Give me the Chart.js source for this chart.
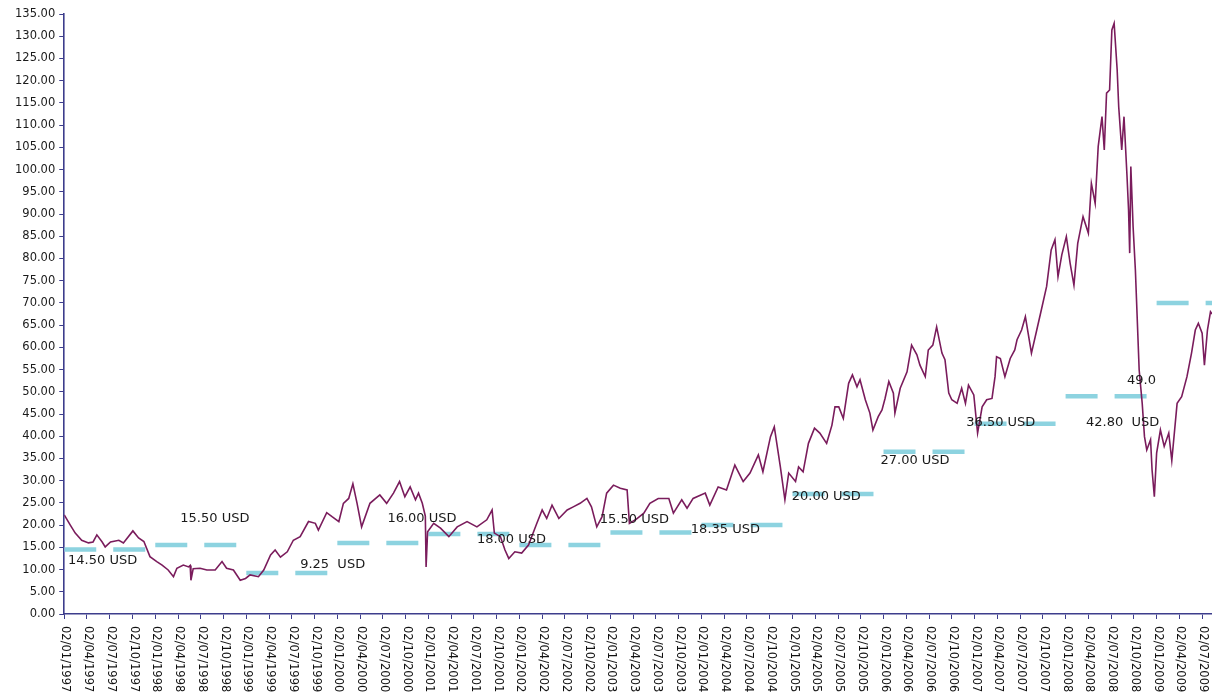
<!DOCTYPE html>
<html>
<head>
<meta charset="utf-8">
<script src="https://cdn.jsdelivr.net/npm/chart.js@4.4.0/dist/chart.umd.min.js"></script>
<style>
  html, body { margin: 0; padding: 0; background: #fff; }
  #wrap { width: 1212px; height: 692px; position: relative; }
</style>
</head>
<body>
<div id="wrap"><canvas id="chart"></canvas></div>
<script>
// quarterly tick labels on the time axis
const tickLabels = [
  '02/01/1997', '02/04/1997', '02/07/1997', '02/10/1997',
  '02/01/1998', '02/04/1998', '02/07/1998', '02/10/1998',
  '02/01/1999', '02/04/1999', '02/07/1999', '02/10/1999',
  '02/01/2000', '02/04/2000', '02/07/2000', '02/10/2000',
  '02/01/2001', '02/04/2001', '02/07/2001', '02/10/2001',
  '02/01/2002', '02/04/2002', '02/07/2002', '02/10/2002',
  '02/01/2003', '02/04/2003', '02/07/2003', '02/10/2003',
  '02/01/2004', '02/04/2004', '02/07/2004', '02/10/2004',
  '02/01/2005', '02/04/2005', '02/07/2005', '02/10/2005',
  '02/01/2006', '02/04/2006', '02/07/2006', '02/10/2006',
  '02/01/2007', '02/04/2007', '02/07/2007', '02/10/2007',
  '02/01/2008', '02/04/2008', '02/07/2008', '02/10/2008',
  '02/01/2009', '02/04/2009', '02/07/2009'
];

// oil price, months counted from 02/01/1997
const priceMonth = [
  0, 0.8, 1.45, 2.3, 3.2, 3.8, 4.3, 5.0, 5.4, 6.1, 7.2, 7.8, 9.05, 9.8, 10.5, 11.3,
  12.2, 12.9, 13.7, 14.4, 14.85, 15.7, 16.4, 16.6, 16.7, 17.0, 17.9, 18.8, 19.9, 20.8, 21.4, 22.3,
  23.2, 23.9, 24.5, 25.6, 26.3, 27.2, 27.8, 28.5, 29.4, 30.2, 31.1, 32.2, 33.1, 33.5, 34.6, 35.3,
  36.2, 36.8, 37.5, 38.05, 38.6, 39.2, 40.3, 41.6, 42.5, 43.4, 44.2, 44.9, 45.6, 46.3, 46.7, 47.2,
  47.6, 47.7, 47.9, 48.7, 49.6, 50.7, 51.8, 53.1, 54.4, 55.7, 56.4, 56.7, 57.5, 58.1, 58.6, 59.4,
  60.3, 61.2, 62.3, 63.0, 63.6, 64.3, 65.2, 66.3, 67.1, 68.0, 68.9, 69.5, 70.2, 70.9, 71.5, 72.4,
  73.3, 74.2, 74.5, 75.3, 76.4, 77.2, 78.3, 79.7, 80.3, 81.4, 82.1, 82.9, 84.5, 85.1, 86.2, 87.3,
  88.4, 89.5, 90.4, 91.5, 92.1, 93.1, 93.6, 94.4, 95.0, 95.5, 96.4, 96.8, 97.4, 98.1, 98.9, 99.6,
  100.5, 101.2, 101.6, 102.1, 102.7, 103.4, 103.9, 104.5, 104.9, 105.6, 106.2, 106.6, 107.3, 107.8, 108.2, 108.7,
  109.3, 109.5, 110.2, 111.1, 111.7, 112.4, 112.8, 113.5, 113.9, 114.5, 115.0, 115.7, 116.1, 116.6, 117.0, 117.7,
  118.3, 118.8, 119.2, 119.9, 120.4, 121.0, 121.6, 122.3, 122.7, 122.9, 123.4, 124.0, 124.7, 125.3, 125.6, 126.2,
  126.7, 127.5, 128.2, 128.8, 129.5, 130.1, 130.6, 131.0, 131.5, 132.1, 132.6, 133.1, 133.6, 134.3, 135.0, 135.4,
  135.9, 136.3, 136.8, 137.1, 137.4, 137.8, 138.1, 138.4, 138.8, 139.0, 139.4, 139.7, 140.1, 140.3, 140.45, 140.6,
  140.9, 141.2, 141.4, 141.7, 142.1, 142.4, 142.7, 143.2, 143.4, 143.7, 144.0, 144.5, 145.0, 145.6, 146.0, 146.7,
  147.3, 148.0, 148.6, 149.1, 149.5, 150.0, 150.3, 150.7, 151.1, 151.3
];
const priceUsd = [
  22.3, 20.0, 18.2, 16.6, 16.0, 16.2, 17.8, 16.2, 15.1, 16.2, 16.6, 16.0, 18.7, 17.1, 16.3, 12.9,
  11.8, 11.0, 9.9, 8.4, 10.3, 11.0, 10.6, 10.9, 7.6, 10.2, 10.3, 9.9, 9.9, 11.8, 10.3, 9.9,
  7.6, 8.0, 8.8, 8.4, 9.9, 13.3, 14.4, 12.8, 14.0, 16.6, 17.4, 20.8, 20.4, 18.9, 22.8, 21.9,
  20.8, 24.9, 26.0, 29.3, 24.9, 19.6, 24.9, 26.8, 24.9, 27.2, 29.8, 26.4, 28.6, 25.7, 27.2, 24.9,
  22.0, 10.6, 18.5, 20.4, 19.3, 17.4, 19.6, 20.8, 19.6, 21.2, 23.4, 18.2, 17.4, 14.4, 12.5, 14.0,
  13.7, 15.5, 20.4, 23.4, 21.5, 24.5, 21.5, 23.4, 24.1, 24.9, 26.0, 24.1, 19.6, 21.9, 27.2, 29.0,
  28.3, 27.9, 20.4, 21.2, 22.7, 24.9, 26.0, 26.0, 22.7, 25.7, 23.8, 26.0, 27.2, 24.5, 28.6, 27.9,
  33.5, 29.8, 31.7, 35.8, 32.0, 39.9, 42.1, 33.1, 25.7, 31.7, 29.8, 33.1, 32.0, 38.4, 41.8, 40.7,
  38.4, 42.5, 46.6, 46.6, 44.0, 51.9, 53.8, 51.1, 52.7, 48.2, 45.2, 41.4, 44.4, 45.9, 48.5, 52.3,
  49.7, 45.2, 50.8, 54.5, 60.5, 58.3, 56.0, 53.4, 59.4, 60.5, 64.6, 58.7, 57.2, 49.7, 48.2, 47.4,
  50.8, 47.4, 51.5, 49.3, 40.7, 46.6, 48.2, 48.5, 53.4, 57.9, 57.5, 53.4, 57.5, 59.4, 61.7, 63.9,
  66.9, 58.7, 63.9, 68.4, 73.7, 81.9, 84.2, 75.9, 80.8, 84.9, 78.9, 74.0, 83.4, 89.4, 85.7, 96.9,
  92.4, 105.2, 111.9, 104.4, 117.2, 117.9, 131.4, 132.9, 122.4, 114.2, 104.4, 111.9, 98.4, 90.9, 81.2, 100.7,
  87.1, 77.4, 68.4, 54.9, 47.4, 39.9, 36.9, 39.2, 32.4, 26.4, 36.2, 41.4, 37.7, 40.7, 34.5, 47.4,
  48.9, 53.4, 58.7, 63.9, 65.4, 63.2, 56.0, 63.9, 68.0, 67.5
];

// yearly reference prices (one dashed step per calendar year)
const targetYears = [1997, 1998, 1999, 2000, 2001, 2002, 2003, 2004, 2005, 2006, 2007, 2008, 2009];
const targetUsd = [14.5, 15.5, 9.25, 16.0, 18.0, 15.5, 18.35, 20.0, 27.0, 36.5, 42.8, 49.0, 70.0];

// text notes as they sit on the chart
const noteText = ['14.50 USD', '15.50 USD', '9.25  USD', '16.00 USD', '18.00 USD', '15.50 USD',
  '18.35 USD', '20.00 USD', '27.00 USD', '36.50 USD', '42.80  USD', '49.0'];
// where each note starts: [month, usd]
const notePos = [[0.5, 11.9], [15.3, 21.4], [31.1, 11.0], [42.6, 21.5], [54.4, 16.7], [70.6, 21.3],
  [82.6, 18.9], [95.9, 26.3], [107.6, 34.5], [118.9, 43.0], [134.7, 43.0], [140.1, 52.6]];

const X_MAX = 151.3;
const AXIS = '#3d3d8c';
const FONT = '"DejaVu Sans", Verdana, sans-serif';

const priceData = priceMonth.map((m, i) => ({ x: m, y: priceUsd[i] }));

const targetData = [];
targetYears.forEach((yr, i) => {
  const start = (yr - 1997) * 12;
  const end = Math.min(start + 12, X_MAX);
  targetData.push({ x: start, y: targetUsd[i] }, { x: end, y: targetUsd[i] }, { x: end, y: null });
});

// x labels read top to bottom, so they are drawn here
const xLabelPlugin = {
  id: 'xLabels',
  afterDraw(chart) {
    const { ctx, chartArea } = chart;
    const x = chart.scales.x;
    ctx.save();
    ctx.font = '11.5px ' + FONT;
    ctx.fillStyle = '#111';
    ctx.textAlign = 'left';
    ctx.textBaseline = 'middle';
    tickLabels.forEach((lab, i) => {
      ctx.save();
      ctx.translate(x.getPixelForValue(i * 3) + 1, chartArea.bottom + 12);
      ctx.rotate(Math.PI / 2);
      ctx.fillText(lab, 0, 0);
      ctx.restore();
    });
    ctx.restore();
  }
};

const notePlugin = {
  id: 'notes',
  afterDatasetsDraw(chart) {
    const { ctx } = chart;
    const { x, y } = chart.scales;
    ctx.save();
    ctx.font = '13px ' + FONT;
    ctx.fillStyle = '#1a1a1a';
    ctx.textAlign = 'left';
    ctx.textBaseline = 'middle';
    noteText.forEach((t, i) => {
      ctx.fillText(t, x.getPixelForValue(notePos[i][0]), y.getPixelForValue(notePos[i][1]));
    });
    ctx.restore();
  }
};

new Chart(document.getElementById('chart'), {
  type: 'line',
  data: {
    datasets: [
      {
        label: 'Price',
        data: priceData,
        borderColor: '#7a1c5c',
        borderWidth: 1.6,
        pointRadius: 0,
        tension: 0,
        fill: false
      },
      {
        label: 'Reference',
        data: targetData,
        borderColor: '#8dd3e0',
        borderWidth: 4.5,
        borderDash: [32, 17],
        borderCapStyle: 'butt',
        pointRadius: 0,
        spanGaps: false,
        tension: 0,
        fill: false
      }
    ]
  },
  options: {
    responsive: true,
    maintainAspectRatio: false,
    animation: false,
    layout: { padding: { left: 11, right: 0, top: 14, bottom: 73 } },
    plugins: {
      legend: { display: false },
      tooltip: { enabled: false }
    },
    scales: {
      x: {
        type: 'linear',
        min: 0,
        max: X_MAX,
        afterBuildTicks: s => { s.ticks = tickLabels.map((_, i) => ({ value: i * 3 })); },
        ticks: { display: false },
        grid: { drawOnChartArea: false, color: AXIS, tickLength: 5 },
        border: { color: AXIS, width: 1.6 }
      },
      y: {
        min: 0,
        max: 135,
        ticks: {
          stepSize: 5,
          maxTicksLimit: 30,
          padding: 4,
          color: '#1a1a1a',
          font: { family: FONT, size: 11.5 },
          callback: v => v.toFixed(2)
        },
        grid: { drawOnChartArea: false, color: AXIS, tickLength: 5 },
        border: { color: AXIS, width: 1.6 }
      }
    }
  },
  plugins: [xLabelPlugin, notePlugin]
});
</script>
</body>
</html>
